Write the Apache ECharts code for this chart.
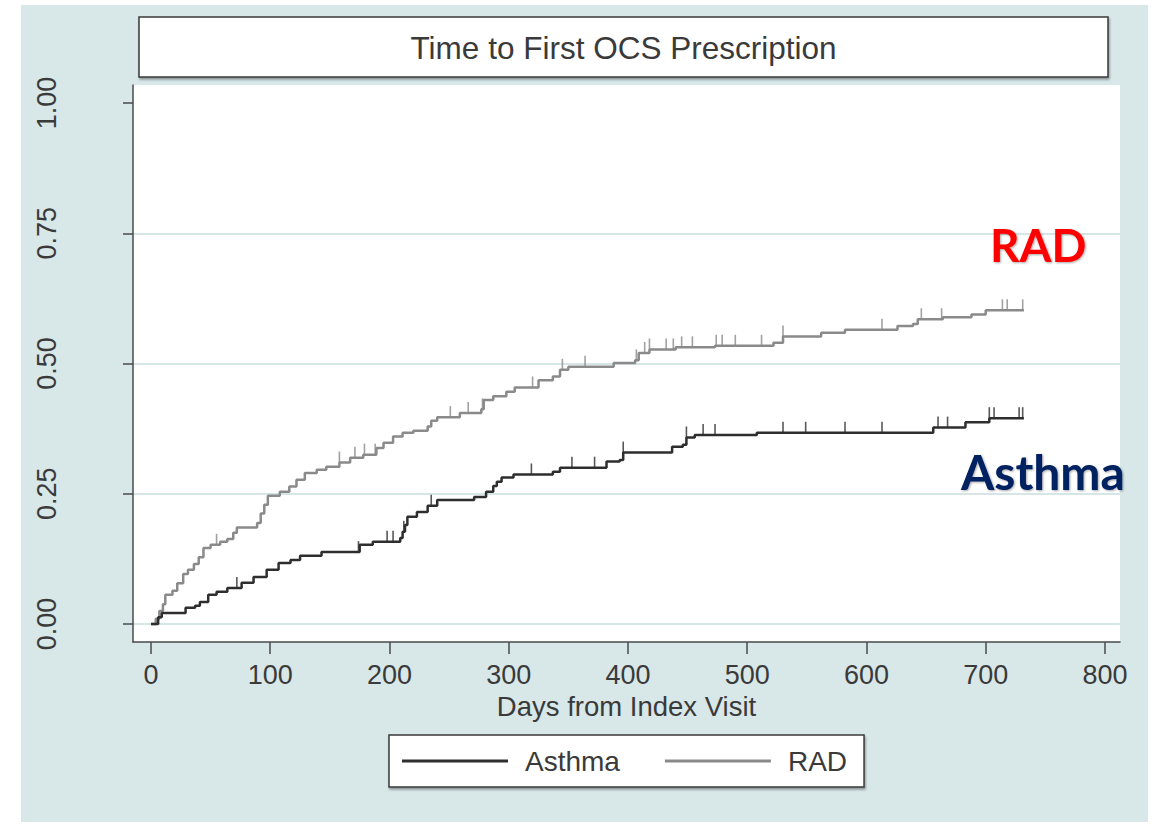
<!DOCTYPE html>
<html>
<head>
<meta charset="utf-8">
<script src="https://cdn.jsdelivr.net/npm/echarts@6/dist/echarts.min.js"></script>
<style>
html,body{margin:0;padding:0;background:#ffffff;}
#chart{width:1156px;height:824px;}
</style>
</head>
<body>
<div id="chart"></div>
<script>
// ---------------- data ----------------
const titleText = 'Time to First OCS Prescription';
const xAxisName = 'Days from Index Visit';
const seriesNames = ['Asthma', 'RAD'];
const xTickValues = [0, 100, 200, 300, 400, 500, 600, 700, 800];
const yTickValues = [0, 0.25, 0.5, 0.75, 1];

// Kaplan-Meier failure steps: [day, cumulative proportion after the event]
const asthmaSteps = [
  [0,0],[6,0.013],[9,0.021],[29,0.031],[37,0.035],[41,0.042],[48,0.056],[55,0.062],
  [64,0.069],[76,0.079],[86,0.09],[97,0.104],[107,0.117],[117,0.123],[125,0.131],
  [143,0.138],[175,0.152],[186,0.158],[209,0.165],[211,0.177],[213,0.19],[215,0.206],
  [223,0.215],[232,0.227],[240,0.238],[271,0.244],[281,0.254],[287,0.265],[290,0.273],
  [294,0.281],[304,0.287],[337,0.292],[343,0.3],[382,0.312],[393,0.315],[396,0.329],
  [437,0.34],[446,0.344],[449,0.358],[456,0.363],[508,0.367],[656,0.377],[683,0.387],
  [703,0.395],[732,0.395]
];
const radSteps = [
  [0,0],[4,0.01],[7,0.025],[10,0.038],[12,0.056],[18,0.064],[22,0.078],[27,0.096],
  [31,0.104],[36,0.115],[40,0.128],[44,0.146],[50,0.152],[58,0.158],[64,0.163],
  [69,0.175],[72,0.185],[89,0.194],[92,0.212],[95,0.229],[98,0.246],[108,0.254],
  [116,0.264],[122,0.277],[129,0.29],[139,0.296],[147,0.302],[158,0.31],[167,0.319],
  [178,0.325],[189,0.338],[195,0.348],[203,0.36],[211,0.367],[220,0.371],[232,0.379],
  [235,0.39],[240,0.397],[259,0.405],[277,0.412],[279,0.43],[287,0.437],[298,0.446],
  [305,0.454],[325,0.468],[337,0.475],[343,0.488],[350,0.494],[388,0.501],[406,0.506],
  [409,0.52],[418,0.527],[440,0.531],[473,0.534],[522,0.54],[530,0.552],[562,0.559],
  [582,0.565],[626,0.572],[639,0.576],[643,0.585],[664,0.589],[688,0.594],[700,0.602],
  [732,0.602]
];
// censoring times (days)
const asthmaCensored = [72,174,198,203,212,235,319,353,372,396,449,463,473,530,549,582,613,660,668,703,707,728,731];
const radCensored = [55,158,171,179,188,251,266,278,320,345,364,407,414,418,432,438,445,454,474,479,490,512,530,613,646,663,714,718,731];

// ---------------- helpers ----------------
function stepValueAt(steps, day) {
  let v = 0;
  for (const [d, y] of steps) { if (d <= day) v = y; else break; }
  return v;
}
const asthmaColor = '#2e2e2e';
const radColor = '#8a8a8a';
const textColor = '#3a3a3a';
const gridColor = '#d6e5e6';
const FONT = 'Liberation Sans';

const chart = echarts.init(document.getElementById('chart'), null, {renderer: 'svg'});

const option = {
  animation: false,
  title: {
    text: titleText,
    left: 623.5,
    top: 32,
    textAlign: 'center',
    padding: 0,
    textStyle: {fontFamily: FONT, fontSize: 31.5, fontWeight: 'normal', color: textColor}
  },
  graphic: [
    {type: 'rect', z: -5, z2: 0, silent: true,
     shape: {x: 21, y: 5, width: 1127, height: 817},
     style: {fill: '#d8e7e8'}},
    {type: 'rect', z: -5, z2: 1, silent: true,
     shape: {x: 139, y: 17, width: 969, height: 60},
     style: {fill: '#ffffff', stroke: '#3a3a3a', lineWidth: 1.5,
             shadowColor: 'rgba(0,0,0,0.35)', shadowBlur: 2, shadowOffsetX: 1, shadowOffsetY: 2}},
    {type: 'text', z: 10, silent: true,
     style: {text: 'RAD', x: 990, y: 244, font: 'bold 46px Lato', fontFamily: 'Lato', fontSize: 46, fontWeight: 'bold',
             fill: '#ff0000', align: 'left', verticalAlign: 'middle', textAlign: 'left', textVerticalAlign: 'middle',
             textShadowColor: 'rgba(0,0,0,0.35)', textShadowBlur: 2, textShadowOffsetX: 1, textShadowOffsetY: 1}},
    {type: 'text', z: 10, silent: true,
     style: {text: 'Asthma', x: 961, y: 471, font: 'bold 48px Lato', fontFamily: 'Lato', fontSize: 48, fontWeight: 'bold',
             fill: '#002060', align: 'left', verticalAlign: 'middle', textAlign: 'left', textVerticalAlign: 'middle',
             textShadowColor: 'rgba(0,0,0,0.35)', textShadowBlur: 2, textShadowOffsetX: 1, textShadowOffsetY: 1}}
  ],
  legend: {
    data: seriesNames,
    left: 389,
    top: 735,
    orient: 'horizontal',
    icon: 'rect',
    itemWidth: 106,
    itemHeight: 3,
    itemGap: 45,
    padding: [12, 17, 12, 13],
    backgroundColor: '#ffffff',
    borderColor: '#3a3a3a',
    borderWidth: 1.5,
    borderRadius: 0,
    shadowColor: 'rgba(0,0,0,0.35)', shadowBlur: 2, shadowOffsetX: 1, shadowOffsetY: 2,
    selectedMode: false,
    textStyle: {fontFamily: FONT, fontSize: 28, color: textColor, padding: [0, 0, 0, 12]}
  },
  grid: {
    left: 133, right: 36, top: 85, bottom: 182,
    show: true, backgroundColor: '#ffffff', borderWidth: 0,
    containLabel: false
  },
  xAxis: {
    type: 'value',
    min: -15.09, max: 812.6,
    name: xAxisName,
    nameLocation: 'middle',
    nameGap: 52,
    nameMoveOverlap: false,
    nameTextStyle: {fontFamily: FONT, fontSize: 27.5, color: textColor, lineHeight: 24},
    axisLine: {show: true, onZero: false, lineStyle: {color: '#4a4a4a', width: 1.5}},
    axisTick: {show: true, length: 12, customValues: xTickValues, lineStyle: {color: '#4a4a4a', width: 1.5}},
    axisLabel: {show: true, customValues: xTickValues, margin: 22, lineHeight: 22,
                fontFamily: FONT, fontSize: 27, color: textColor},
    splitLine: {show: false}
  },
  yAxis: {
    type: 'value',
    min: -0.03455, max: 1.03455,
    axisLine: {show: true, onZero: false, lineStyle: {color: '#4a4a4a', width: 1.5}},
    axisTick: {show: true, length: 10, customValues: yTickValues, lineStyle: {color: '#4a4a4a', width: 1.5}},
    axisLabel: {show: true, customValues: yTickValues, rotate: 90, margin: 73,
                fontFamily: FONT, fontSize: 27, color: textColor,
                formatter: v => v.toFixed(2)},
    splitLine: {show: true, lineStyle: {color: [gridColor, gridColor, gridColor, gridColor, 'rgba(0,0,0,0)'], width: 2}}
  },
  series: [
    {name: 'Asthma', type: 'line', step: 'end', data: asthmaSteps, symbol: 'none',
     color: asthmaColor, lineStyle: {width: 2.5, color: asthmaColor}, z: 4, silent: true},
    {name: 'RAD', type: 'line', step: 'end', data: radSteps, symbol: 'none',
     color: radColor, lineStyle: {width: 2.5, color: radColor}, z: 3, silent: true},
    {name: 'Asthma censored', type: 'scatter',
     data: asthmaCensored.map(d => [d, stepValueAt(asthmaSteps, d)]),
     symbol: 'rect', symbolSize: [1.6, 11], symbolOffset: [0, -5.5],
     itemStyle: {color: asthmaColor}, z: 4, silent: true},
    {name: 'RAD censored', type: 'scatter',
     data: radCensored.map(d => [d, stepValueAt(radSteps, d)]),
     symbol: 'rect', symbolSize: [1.6, 11], symbolOffset: [0, -5.5],
     itemStyle: {color: radColor}, z: 3, silent: true}
  ]
};
chart.setOption(option);
</script>
</body>
</html>
